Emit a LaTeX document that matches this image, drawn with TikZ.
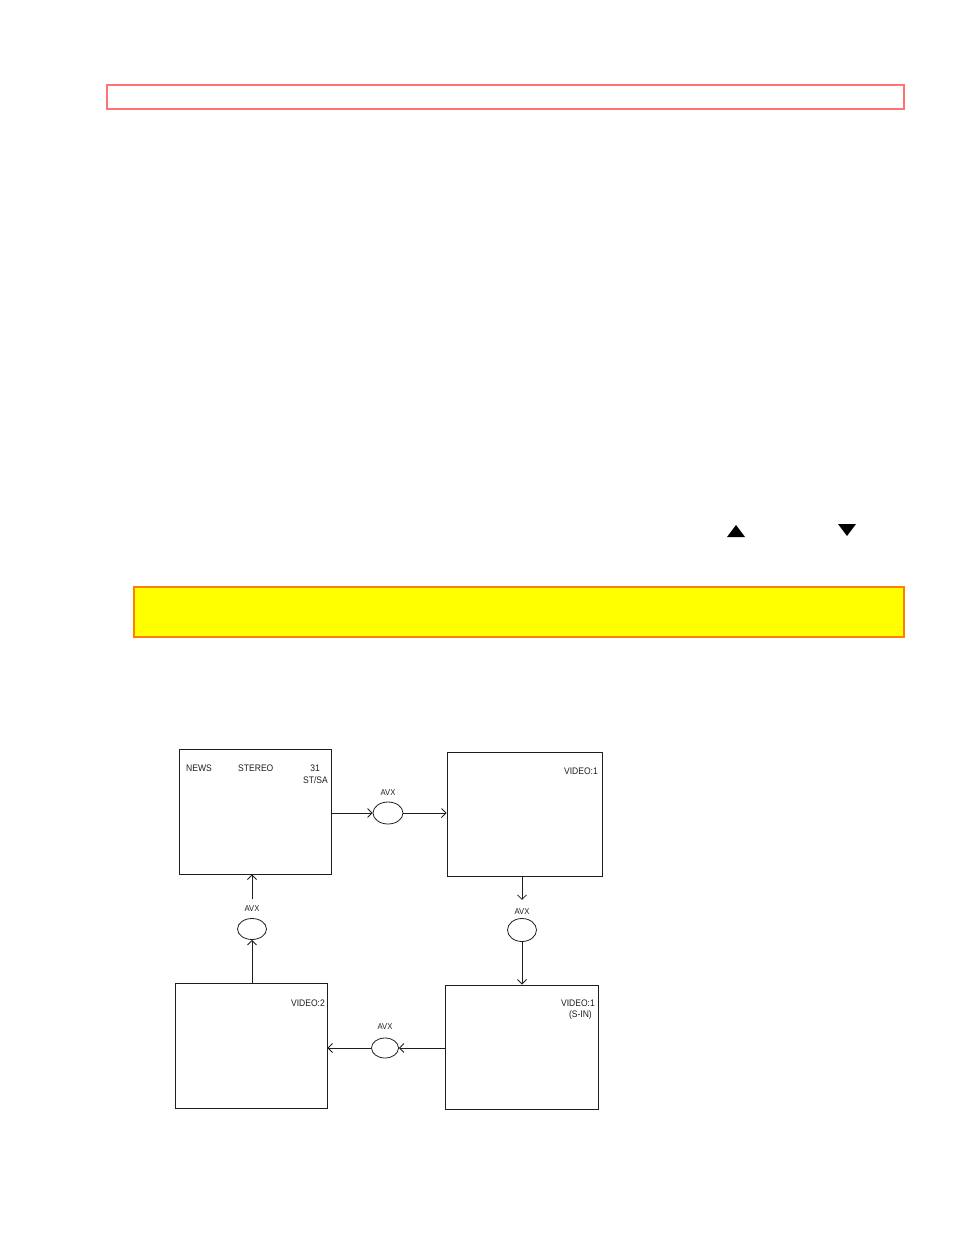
\documentclass[tikz,border=0pt]{standalone}
\usepackage{fontspec}
\setmainfont{Liberation Sans}
\newfontfamily\scanfont[FakeStretch=0.9]{Liberation Sans}
\usetikzlibrary{shapes.geometric,arrows.meta}
\definecolor{redline}{RGB}{255,115,115}
\definecolor{orangeline}{RGB}{255,128,0}
\definecolor{hiyellow}{RGB}{255,255,0}
\definecolor{ink}{RGB}{30,30,30}
\begin{document}
\begin{tikzpicture}[x=1pt,y=-1pt,
  screen/.style={draw=ink,line width=0.9pt,rectangle,inner sep=0pt},
  avxring/.style={draw=ink,line width=0.8pt,ellipse,inner sep=0pt,minimum width=30pt,minimum height=22pt},
  lbl/.style={font=\scanfont\fontsize{9.5}{10}\selectfont,inner sep=0pt,text=ink},
  avxlbl/.style={font=\scanfont\fontsize{8.5}{9}\selectfont,inner sep=0pt,text=ink},
  flow/.style={draw=ink,line width=0.8pt,-{Straight Barb[length=4.5pt,width=9pt,line width=0.8pt]}}]
\useasboundingbox (0,0) rectangle (954,1235);
% top red frame
\node[draw=redline,line width=1.2pt,rectangle,minimum width=797pt,minimum height=24pt,inner sep=0pt] (redbox) at (505.5,97) {};
% triangles
\fill[black] (727,537) -- (745,537) -- (736,525) -- cycle;
\fill[black] (838,524) -- (856,524) -- (847,536) -- cycle;
% yellow box
\node[draw=orangeline,fill=hiyellow,line width=1.8pt,rectangle,minimum width=770pt,minimum height=50pt,inner sep=0pt] (ybox) at (519,612) {};
% screens
\node[screen,minimum width=152pt,minimum height=125pt] (tl) at (255,811.5) {};
\node[screen,minimum width=155pt,minimum height=124pt] (tr) at (524.5,814) {};
\node[screen,minimum width=153pt,minimum height=124pt] (br) at (521.5,1047) {};
\node[screen,minimum width=152pt,minimum height=125pt] (bl) at (251,1045.5) {};
% screen texts
\node[lbl,anchor=west] (tnews) at (186,768) {NEWS};
\node[lbl,anchor=west] (tstereo) at (238,768) {STEREO};
\node[lbl,anchor=east] (t31) at (320,768) {31};
\node[lbl,anchor=east] (tstsa) at (328,780) {ST/SA};
\node[lbl,anchor=east] (tv1) at (598,771) {VIDEO:1};
\node[lbl,anchor=east] (tv1b) at (595,1003) {VIDEO:1};
\node[lbl,anchor=east] (tsin) at (592,1015) {(S-IN)};
\node[lbl,anchor=east] (tv2) at (325,1003) {VIDEO:2};
% AVX rings
\node[avxring] (e1) at (388,813) {};
\node[avxring,minimum width=29pt,minimum height=23pt] (e2) at (522,930) {};
\node[avxring,minimum width=27pt,minimum height=20pt] (e3) at (385,1048) {};
\node[avxring,minimum width=29pt,minimum height=21pt] (e4) at (252,929) {};
\node[avxlbl] (a1) at (388,793) {AVX};
\node[avxlbl] (a2) at (522,912) {AVX};
\node[avxlbl] (a3) at (385,1027) {AVX};
\node[avxlbl] (a4) at (252,908.5) {AVX};
% connectors
\draw[flow] (e1 -| tl.east) -- (e1.west);
\draw[flow] (e1.east) -- (e1 -| tr.west);
\draw[flow,shorten >=9pt] (a2 |- tr.south) -- (a2.north);
\draw[flow] (e2.south) -- (e2 |- br.north);
\draw[flow] (e3 -| br.west) -- (e3.east);
\draw[flow] (e3.west) -- (e3 -| bl.east);
\draw[flow] (e4 |- bl.north) -- (e4.south);
\draw[flow,shorten <=6pt] (a4.north) -- (a4 |- tl.south);
\end{tikzpicture}
\end{document}
